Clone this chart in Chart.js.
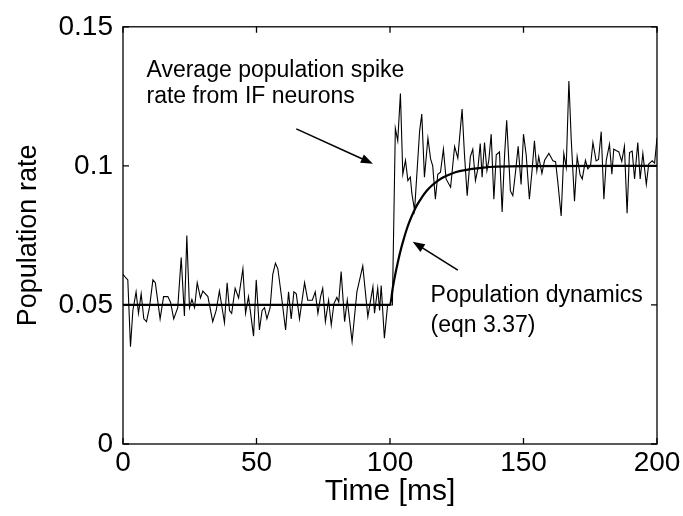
<!DOCTYPE html>
<html>
<head>
<meta charset="utf-8">
<script src="https://cdn.jsdelivr.net/npm/chart.js@4"></script>
<style>
  html, body { margin: 0; padding: 0; background: #fff; }
  #wrap { width: 683px; height: 516px; }
</style>
</head>
<body>
<div id="wrap"><canvas id="c" width="683" height="516"></canvas></div>
<script>
// ---- data ----
const noiseTime = [0,1.2,1.8,2.8,3.7,4.9,5.8,6.8,7.8,8.8,9.9,11.2,12.1,13.9,15.2,16.8,17.8,19.0,20.5,21.8,23.0,23.9,24.9,25.8,26.8,27.8,29.0,29.9,31.8,33.6,34.9,36.1,38.0,39.0,39.9,40.7,42.0,43.3,44.9,45.9,47.0,48.9,
  49.9,51.1,52.1,53.0,53.9,55.1,56.1,57.1,58.0,59.3,60.9,62.0,63.0,64.0,64.9,66.1,68.0,69.2,70.9,72.0,73.0,74.0,74.8,75.8,77.0,78.0,79.0,80.1,80.8,81.7,83.0,84.0,85.8,87.6,89.8,91.7,93.6,94.2,95.4,96.1,96.7,97.9,99.1,100.9,
  102.0,102.9,103.9,104.8,105.8,106.7,107.6,108.2,109.2,111.1,111.9,112.9,114.2,115.2,116.0,117.0,117.9,118.9,120.0,121.0,122.7,124.2,125.4,127.0,127.9,128.9,130.1,131.0,132.0,132.9,133.8,134.5,135.4,136.3,137.0,137.9,138.9,139.8,
  141.0,142.0,142.9,143.7,145.1,146.0,147.0,148.0,149.1,150.0,151.0,152.2,153.2,154.1,155.0,155.7,156.9,157.9,159.5,161.0,162.0,162.8,164.1,165.1,166.0,167.0,167.9,169.1,170.1,171.2,172.0,173.2,174.1,175.1,176.0,177.2,178.1,179.1,180.1,181.0,182.2,183.1,183.8,184.7,185.7,186.8,187.8,188.8,189.7,190.7,191.6,192.8,193.7,194.7,196.0,196.9,198.2,199.1,200];
const noiseRate = [0.061,0.0596,0.059,0.035,0.048,0.0547,0.047,0.054,0.045,0.044,0.049,0.059,0.058,0.045,0.053,0.053,0.051,0.045,0.049,0.067,0.046,0.075,0.049,0.052,0.049,0.058,0.0525,0.055,0.053,0.044,0.048,0.055,0.0436,0.058,0.048,0.047,0.056,0.0525,0.063,0.047,0.053,0.0388,
  0.059,0.041,0.048,0.049,0.045,0.049,0.061,0.065,0.063,0.0535,0.041,0.0547,0.045,0.0547,0.054,0.045,0.058,0.0517,0.0517,0.0547,0.047,0.053,0.056,0.044,0.0517,0.0428,0.0505,0.0527,0.051,0.062,0.044,0.0517,0.0368,0.0547,0.064,0.0458,0.0565,0.047,0.056,0.048,0.057,0.038,0.050,0.050,
  0.1135,0.109,0.126,0.097,0.102,0.0947,0.096,0.090,0.084,0.1126,0.1186,0.0959,0.110,0.1025,0.100,0.088,0.097,0.0977,0.106,0.0953,0.0923,0.107,0.1028,0.1204,0.104,0.0893,0.1033,0.106,0.0947,0.0989,0.108,0.0959,0.1084,0.0983,0.102,0.1114,0.088,0.104,
  0.105,0.0834,0.1036,0.1164,0.091,0.0893,0.0977,0.107,0.0933,0.1114,0.104,0.088,0.0983,0.109,0.0983,0.1033,0.0973,0.102,0.1045,0.1018,0.1015,0.0947,0.082,0.1045,0.0995,0.1305,0.109,0.0873,0.1033,0.0968,0.0953,0.102,0.0989,0.100,0.1084,0.1018,0.1023,0.1123,0.088,0.102,0.1078,0.097,0.106,0.1055,0.105,0.1016,0.107,0.083,0.1048,0.1053,0.0953,0.1084,0.0953,0.1045,0.0933,0.1007,0.1018,0.101,0.110];

const modelTime = [0,100,101,102,103,104,105,106,107,108,109,110,112,114,116,118,120,123,126,130,135,140,150,200];
const modelRate = [0.05,0.05,0.0559,0.0611,0.0656,0.0697,0.0732,0.0764,0.0792,0.0816,0.0838,0.0857,0.0888,0.0913,0.0932,0.0947,0.0959,0.0972,0.0981,0.0988,0.0994,0.0997,0.0999,0.1];

const xTicks = [0, 50, 100, 150, 200];
const yTicks = [0, 0.05, 0.1, 0.15];
const yTickLabels = ['0', '0.05', '0.1', '0.15'];
const xTitle = 'Time [ms]';
const yTitle = 'Population rate';

// annotations (data units)
const noteLines1 = ['Average population spike', 'rate from IF neurons'];
const noteLines2 = ['Population dynamics', '(eqn 3.37)'];
const note1At = {x: 8.8, y: 0.132};
const note2At = {x: 115.2, y: 0.0511};
const arrow1 = {from: {x: 64.9, y: 0.1133}, to: {x: 93.6, y: 0.1008}};
const arrow2 = {from: {x: 125.4, y: 0.0625}, to: {x: 108.5, y: 0.0727}};

const FONT = "'Liberation Sans', Arial, Helvetica, sans-serif";

const framePlugin = {
  id: 'frame',
  afterDraw(chart) {
    const {ctx, chartArea: a, scales: {x, y}} = chart;
    ctx.save();
    ctx.strokeStyle = '#000';
    ctx.lineWidth = 1.3;
    ctx.strokeRect(a.left, a.top, a.right - a.left, a.bottom - a.top);
    const tl = 6;
    ctx.beginPath();
    xTicks.forEach(v => {
      const px = x.getPixelForValue(v);
      ctx.moveTo(px, a.bottom); ctx.lineTo(px, a.bottom - tl);
      ctx.moveTo(px, a.top); ctx.lineTo(px, a.top + tl);
    });
    yTicks.forEach(v => {
      const py = y.getPixelForValue(v);
      ctx.moveTo(a.left, py); ctx.lineTo(a.left + tl, py);
      ctx.moveTo(a.right, py); ctx.lineTo(a.right - tl, py);
    });
    ctx.stroke();

    // annotations
    ctx.fillStyle = '#000';
    ctx.font = '23px ' + FONT;
    ctx.textAlign = 'left';
    ctx.textBaseline = 'alphabetic';
    const p1 = {x: x.getPixelForValue(note1At.x), y: y.getPixelForValue(note1At.y)};
    noteLines1.forEach((t, i) => ctx.fillText(t, p1.x, p1.y + i * 26));
    const p2 = {x: x.getPixelForValue(note2At.x), y: y.getPixelForValue(note2At.y)};
    noteLines2.forEach((t, i) => ctx.fillText(t, p2.x, p2.y + i * 30));

    const drawArrow = (ar) => {
      const x0 = x.getPixelForValue(ar.from.x), y0 = y.getPixelForValue(ar.from.y);
      const x1 = x.getPixelForValue(ar.to.x), y1 = y.getPixelForValue(ar.to.y);
      const ang = Math.atan2(y1 - y0, x1 - x0);
      const hl = 12, hw = 4.5;
      ctx.lineWidth = 1.6;
      ctx.beginPath();
      ctx.moveTo(x0, y0);
      ctx.lineTo(x1 - Math.cos(ang) * hl * 0.8, y1 - Math.sin(ang) * hl * 0.8);
      ctx.stroke();
      ctx.beginPath();
      ctx.moveTo(x1, y1);
      ctx.lineTo(x1 - Math.cos(ang) * hl - Math.sin(ang) * hw, y1 - Math.sin(ang) * hl + Math.cos(ang) * hw);
      ctx.lineTo(x1 - Math.cos(ang) * hl + Math.sin(ang) * hw, y1 - Math.sin(ang) * hl - Math.cos(ang) * hw);
      ctx.closePath();
      ctx.fill();
    };
    drawArrow(arrow1);
    drawArrow(arrow2);
    ctx.restore();
  }
};

new Chart(document.getElementById('c'), {
  type: 'line',
  data: {
    datasets: [
      {
        label: 'IF neurons',
        data: noiseTime.map((t, i) => ({x: t, y: noiseRate[i]})),
        borderColor: '#000', borderWidth: 1.1, pointRadius: 0, tension: 0, fill: false
      },
      {
        label: 'Population dynamics',
        data: modelTime.map((t, i) => ({x: t, y: modelRate[i]})),
        borderColor: '#000', borderWidth: 2.2, pointRadius: 0, cubicInterpolationMode: 'monotone', fill: false
      }
    ]
  },
  options: {
    responsive: false,
    animation: false,
    devicePixelRatio: 1,
    layout: { padding: { left: 0, right: 26, top: 24, bottom: 0 } },
    plugins: { legend: { display: false }, tooltip: { enabled: false } },
    scales: {
      x: {
        type: 'linear', min: 0, max: 200,
        afterBuildTicks: s => { s.ticks = xTicks.map(v => ({value: v})); },
        afterFit: s => { s.height = 72; },
        grid: { display: false, drawTicks: false },
        border: { display: false },
        ticks: { color: '#000', font: { family: FONT, size: 28 }, padding: 2, maxRotation: 0, callback: v => String(v) },
        title: { display: true, text: xTitle, color: '#000', font: { family: FONT, size: 30 }, padding: { top: 0, bottom: 6 } }
      },
      y: {
        type: 'linear', min: 0, max: 0.15,
        afterBuildTicks: s => { s.ticks = yTicks.map(v => ({value: v})); },
        afterFit: s => { s.width = 123; },
        grid: { display: false, drawTicks: false },
        border: { display: false },
        ticks: { color: '#000', font: { family: FONT, size: 28 }, padding: 10, callback: v => yTickLabels[yTicks.indexOf(v)] ?? '' },
        title: { display: true, text: yTitle, color: '#000', font: { family: FONT, size: 27 }, padding: { top: 12, bottom: 0 } }
      }
    }
  },
  plugins: [framePlugin]
});
</script>
</body>
</html>
